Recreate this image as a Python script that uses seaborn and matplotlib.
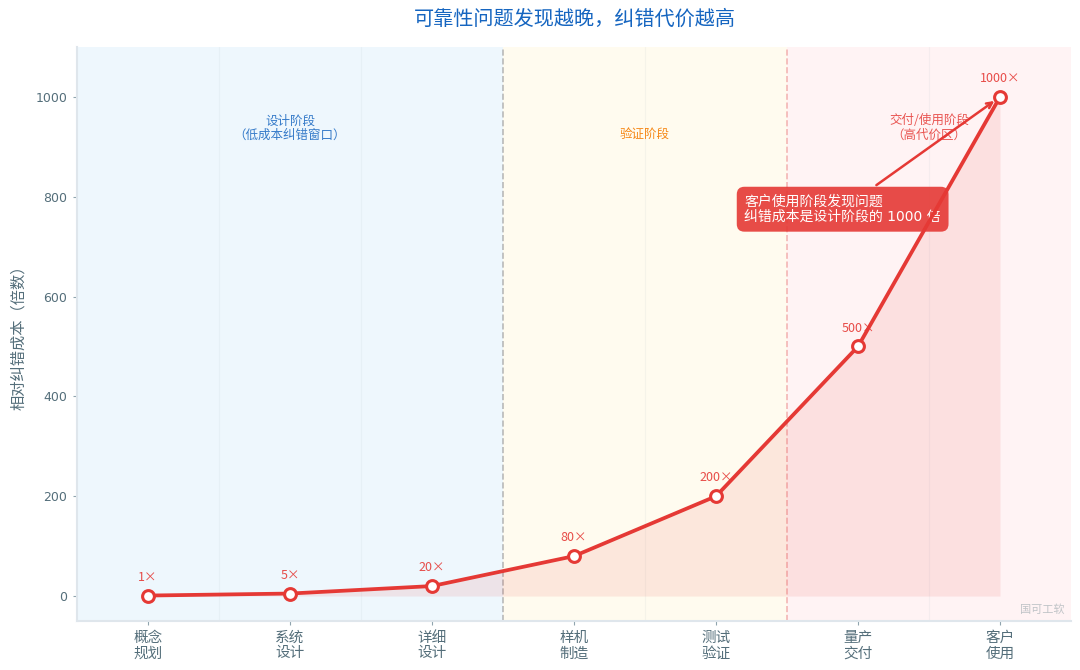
import matplotlib
matplotlib.use("Agg")
import matplotlib.pyplot as plt
import pandas as pd
import seaborn as sns

stages = ["概念\n规划", "系统\n设计", "详细\n设计", "样机\n制造", "测试\n验证", "量产\n交付", "客户\n使用"]
costs = [1, 5, 20, 80, 200, 500, 1000]
cost_labels = ["1×", "5×", "20×", "80×", "200×", "500×", "1000×"]
y_ticks = [0, 200, 400, 600, 800, 1000]

sns.set_theme(style="white")
plt.rcParams["font.family"] = ["Noto Sans CJK SC", "DejaVu Sans"]
plt.rcParams["axes.unicode_minus"] = False

RED = "#e53935"
BLUE = "#1565c0"
ORANGE = "#f57c00"
TEXT = "#546e7a"
LATIN_FIRST = ["DejaVu Sans", "Noto Sans CJK SC"]

df = pd.DataFrame({"pos": range(len(stages)), "cost": costs})

fig = plt.figure(figsize=(10.8, 6.7), dpi=100)
ax = fig.add_axes([77 / 1080, 1 - 621 / 670, (1071 - 77) / 1080, (621 - 47) / 670])

# phase backgrounds
ax.axvspan(-0.5, 2.5, color="#e3f2fd", alpha=0.6, lw=0, zorder=0)
ax.axvspan(2.5, 4.5, color="#fff8e1", alpha=0.5, lw=0, zorder=0)
ax.axvspan(4.5, 6.5, color="#ffebee", alpha=0.6, lw=0, zorder=0)

for x in [0.5, 1.5, 3.5, 5.5]:
    ax.axvline(x, color="#b0bec5", lw=0.8, alpha=0.12, zorder=1)
ax.axvline(2.5, color="#9e9e9e", lw=1.2, ls="--", alpha=0.7, zorder=2)
ax.axvline(4.5, color="#ef9a9a", lw=1.2, ls="--", alpha=0.7, zorder=2)

ax.fill_between(df["pos"], df["cost"], 0, color=RED, alpha=0.1, lw=0, zorder=2)
sns.lineplot(data=df, x="pos", y="cost", ax=ax, color=RED, lw=2.7, marker="o", ms=8.5,
             mfc="white", mec=RED, mew=2.2, zorder=5, errorbar=None)

for x, y, lab in zip(df["pos"], costs, cost_labels):
    ax.annotate(lab, (x, y), xytext=(0, 8.5), textcoords="offset points", ha="center", va="bottom",
                fontsize=9, color=RED, alpha=0.9, zorder=6)

ax.text(1, 911, "设计阶段\n（低成本纠错窗口）", ha="center", va="bottom", fontsize=9,
        color=BLUE, alpha=0.85, linespacing=1.1)
ax.text(3.5, 911, "验证阶段", ha="center", va="bottom", fontsize=9, color=ORANGE, alpha=0.9)
ax.text(5.5, 911, "交付/使用阶段\n（高代价区）", ha="center", va="bottom", fontsize=9,
        color=RED, alpha=0.85, linespacing=1.1)

ax.annotate("客户使用阶段发现问题\n纠错成本是设计阶段的 1000 倍", xy=(6, 1000), xytext=(4.2, 775),
            ha="left", va="center", fontsize=10, color="white", linespacing=1.15, zorder=4,
            family=LATIN_FIRST,
            bbox=dict(boxstyle="round,pad=0.55", fc=RED, ec="none", alpha=0.9),
            arrowprops=dict(arrowstyle="->", color=RED, lw=1.8, shrinkB=5))

ax.set_xlim(-0.5, 6.5)
ax.set_ylim(-50, 1100)
ax.set_xticks(list(df["pos"]))
ax.set_xticklabels(stages, fontsize=10.5, color=TEXT, linespacing=1.15)
ax.set_yticks(y_ticks)
ax.set_yticklabels([str(v) for v in y_ticks], family=LATIN_FIRST)
ax.tick_params(axis="y", labelsize=9, labelcolor=TEXT, length=3, color="#90a4ae", width=0.8, left=True, pad=4)
ax.tick_params(axis="x", length=3, color="#90a4ae", width=0.8, bottom=True, pad=4)
ax.set_xlabel("")
ax.set_ylabel("相对纠错成本（倍数）", fontsize=11, color=TEXT, labelpad=6)

sns.despine(ax=ax)
for side in ["left", "bottom"]:
    ax.spines[side].set_color("#dfe6ec")
    ax.spines[side].set_linewidth(1.5)

ax.grid(False)
fig.text(575 / 1080, 1 - 19 / 670, "可靠性问题发现越晚，纠错代价越高", ha="center", va="center",
         fontsize=14.5, color=BLUE)
ax.text(0.993, 0.01, "国可工软", transform=ax.transAxes, ha="right", va="bottom", fontsize=8,
        color="#b0b8bc", alpha=0.8)

fig.savefig("out.png", dpi=100, facecolor="white")
